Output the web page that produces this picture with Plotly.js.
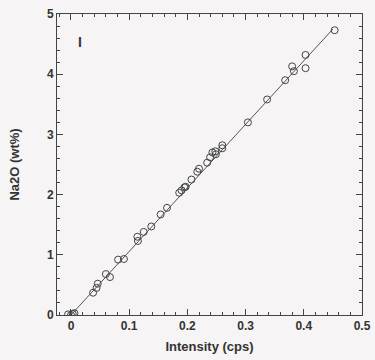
<!DOCTYPE html>
<html>
<head>
<meta charset="utf-8">
<script src="https://cdn.plot.ly/plotly-3.0.1.min.js"></script>
<style>html,body{margin:0;padding:0;background:#f6f4f4;}#chart{width:375px;height:360px;}</style>
</head>
<body>
<div id="chart"></div>
<script>
// Measured intensity (cps) and Na2O (wt%)
const intensity = [-0.005, 0.000, 0.003, 0.006, 0.038, 0.044, 0.046, 0.060, 0.067, 0.081, 0.091,
  0.114, 0.115, 0.125, 0.138, 0.154, 0.165, 0.186, 0.190, 0.195, 0.197, 0.207, 0.217, 0.220,
  0.234, 0.239, 0.243, 0.248, 0.249, 0.260, 0.260, 0.304, 0.337, 0.368, 0.380, 0.383, 0.403, 0.403, 0.453];
const na2o = [0.01, 0.00, 0.02, 0.03, 0.37, 0.45, 0.52, 0.68, 0.63, 0.92, 0.93,
  1.30, 1.23, 1.38, 1.47, 1.67, 1.78, 2.03, 2.07, 2.12, 2.13, 2.25, 2.38, 2.43,
  2.53, 2.62, 2.70, 2.72, 2.67, 2.82, 2.77, 3.20, 3.58, 3.90, 4.13, 4.05, 4.32, 4.10, 4.73];
// Calibration line
const fitX = [0, 0.45];
const fitY = [0, 4.75];
const xTicks = [0, 0.1, 0.2, 0.3, 0.4, 0.5];
const xTickText = ['0', '0.1', '0.2', '0.3', '0.4', '0.5'];
const yTicks = [0, 1, 2, 3, 4, 5];

const tickFont = {family: 'Liberation Sans, Arial, sans-serif', size: 12, color: '#333', weight: 'bold'};
const titleFont = {family: 'Liberation Sans, Arial, sans-serif', size: 13, color: '#333', weight: 'bold'};
const axisCommon = {
  showline: true, linecolor: '#444', linewidth: 1, mirror: 'ticks',
  ticks: 'inside', ticklen: 6, tickcolor: '#444', tickwidth: 1,
  showgrid: false, zeroline: false, tickfont: tickFont
};
Plotly.newPlot('chart', [
  {x: fitX, y: fitY, mode: 'lines', line: {color: '#555', width: 1}, hoverinfo: 'skip'},
  {x: intensity, y: na2o, mode: 'markers',
   marker: {symbol: 'circle-open', size: 7, color: '#444', line: {color: '#444', width: 1}}}
], {
  width: 375, height: 360,
  paper_bgcolor: '#f6f4f4', plot_bgcolor: '#f6f4f4',
  margin: {l: 57, r: 13, t: 14, b: 45},
  showlegend: false,
  font: tickFont,
  xaxis: Object.assign({}, axisCommon, {
    range: [-0.024, 0.5], tickvals: xTicks, ticktext: xTickText,
    minor: {dtick: 0.02, tick0: 0, ticks: 'inside', ticklen: 3, tickcolor: '#444'},
    title: {text: 'Intensity (cps)', font: titleFont, standoff: 9}
  }),
  yaxis: Object.assign({}, axisCommon, {
    range: [0, 5], tickvals: yTicks,
    minor: {dtick: 0.2, tick0: 0, ticks: 'inside', ticklen: 3, tickcolor: '#444'},
    title: {text: 'Na2O (wt%)', font: titleFont, standoff: 24}
  }),
  annotations: [{
    xref: 'paper', yref: 'paper', x: 0.062, y: 0.94, text: 'I', showarrow: false,
    font: {family: 'Liberation Sans, Arial, sans-serif', size: 14, color: '#333', weight: 'bold'}
  }]
}, {staticPlot: true});
</script>
</body>
</html>
